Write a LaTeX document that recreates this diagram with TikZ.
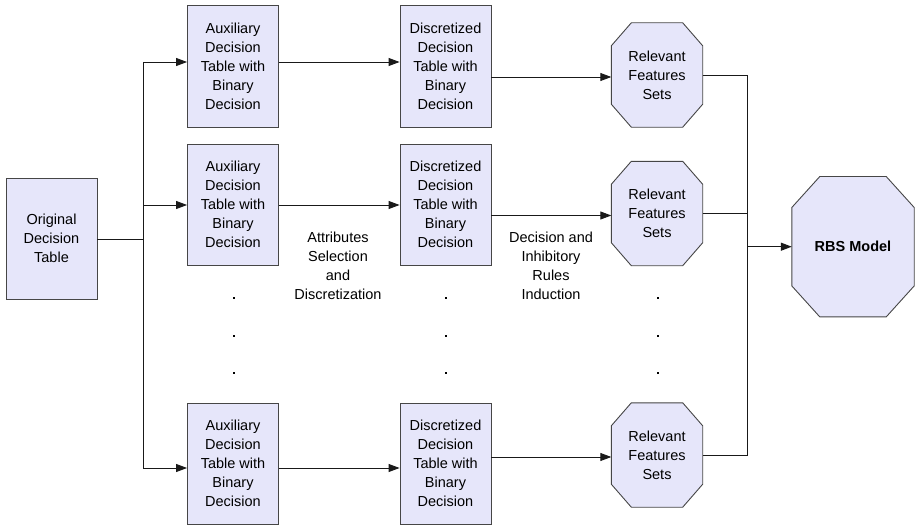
\documentclass[tikz,border=0pt]{standalone}
\usepackage{fontspec}
\setmainfont{Liberation Sans}
\usetikzlibrary{arrows.meta,calc,backgrounds}
\definecolor{boxfill}{RGB}{230,230,250}
\definecolor{boxline}{RGB}{70,70,70}
\definecolor{wire}{RGB}{25,25,25}
\newcommand\octoutline[3]{%
  \begin{scope}[on background layer]
  \filldraw[octline] ($(#1.north west)+(#2,0)$) -- ($(#1.north east)+(-#2,0)$)
    -- ($(#1.north east)+(0,#3)$) -- ($(#1.south east)+(0,-#3)$)
    -- ($(#1.south east)+(-#2,0)$) -- ($(#1.south west)+(#2,0)$)
    -- ($(#1.south west)+(0,-#3)$) -- ($(#1.north west)+(0,#3)$) -- cycle;
  \end{scope}}
\begin{document}
\begin{tikzpicture}[x=1pt,y=-1pt,
  every node/.style={font=\fontsize{14.5}{19}\selectfont, align=center, inner sep=0pt},
  tbox/.style={draw=boxline, line width=0.9pt, fill=boxfill, minimum width=91pt, minimum height=121pt},
  octbox/.style={minimum width=91pt, minimum height=104pt},
  bigoct/.style={minimum width=122pt, minimum height=140pt, font=\fontsize{14.5}{19}\selectfont\bfseries},
  octline/.style={draw=boxline, line width=0.9pt, fill=boxfill, line join=miter},
  wireln/.style={draw=wire, line width=0.9pt},
  arr/.style={wireln, -{Triangle[length=11pt,width=8pt]}},
  dotmark/.style={fill=black, minimum size=2.6pt, inner sep=0pt}
]
\useasboundingbox (0,0) rectangle (915,527);

% nodes
\node[tbox] (orig) at (51.5,238.5) {Original\\Decision\\Table};

\node[tbox, minimum height=122pt] (aux1) at (233,66) {Auxiliary\\Decision\\Table with\\Binary\\Decision};
\node[tbox] (aux2) at (233,204.5) {Auxiliary\\Decision\\Table with\\Binary\\Decision};
\node[tbox] (aux4) at (233,463.5) {Auxiliary\\Decision\\Table with\\Binary\\Decision};

\node[tbox, minimum height=122pt] (disc1) at (445.5,66) {Discretized\\Decision\\Table with\\Binary\\Decision};
\node[tbox] (disc2) at (445.5,204.5) {Discretized\\Decision\\Table with\\Binary\\Decision};
\node[tbox] (disc4) at (445.5,463.5) {Discretized\\Decision\\Table with\\Binary\\Decision};

\node[octbox] (oct1) at (657,75) {Relevant\\Features\\Sets};
\node[octbox] (oct2) at (657,213.5) {Relevant\\Features\\Sets};
\node[octbox] (oct4) at (657,455) {Relevant\\Features\\Sets};
\octoutline{oct1}{20}{23}
\octoutline{oct2}{20}{23}
\octoutline{oct4}{20}{23}

\node[bigoct] (rbs) at (853,246.7) {RBS Model};
\octoutline{rbs}{28}{31}

\node (lab1) at (338,265.5) {Attributes\\Selection\\and\\Discretization};
\node (lab2) at (551,265.5) {Decision and\\Inhibitory\\Rules\\Induction};

% dots
\foreach \c/\x in {a/234,d/446,o/658}{
  \node[dotmark] (\c dot1) at (\x,298) {};
  \node[dotmark] (\c dot2) at (\x,336) {};
  \node[dotmark] (\c dot3) at (\x,373) {};
}

% junction coordinates
\coordinate (ja) at (143,62);
\coordinate (jb) at (143,205);
\coordinate (jd) at (143,468);
\coordinate (jo) at (143,239);
\coordinate (ka) at (747.5,75);
\coordinate (kb) at (747.5,213.5);
\coordinate (kd) at (747.5,455);
\coordinate (kr) at (747.5,246.7);

% connectors left
\draw[wireln] (orig.east |- jo) -- (jo);
\draw[wireln] (ja) -- (jd);
\draw[arr] (ja) -- (ja -| aux1.west);
\draw[arr] (jb) -- (jb -| aux2.west);
\draw[arr] (jd) -- (jd -| aux4.west);

\draw[arr] (aux1.east |- ja) -- (disc1.west |- ja);
\draw[arr] (aux2.east |- jb) -- (disc2.west |- jb);
\draw[arr] (aux4.east |- jd) -- (disc4.west |- jd);

\draw[arr] ([yshift=-2pt]disc1.east |- oct1.west) -- ([yshift=-2pt]oct1.west);
\draw[arr] ([yshift=-2pt]disc2.east |- oct2.west) -- ([yshift=-2pt]oct2.west);
\draw[arr] ([yshift=-2pt]disc4.east |- oct4.west) -- ([yshift=-2pt]oct4.west);

% connectors right
\draw[wireln] (oct1.east) -- (ka) -- (kd) -- (oct4.east);
\draw[wireln] (oct2.east) -- (kb);
\draw[arr, line width=1.2pt] (kr) -- (rbs.west);
\end{tikzpicture}
\end{document}
